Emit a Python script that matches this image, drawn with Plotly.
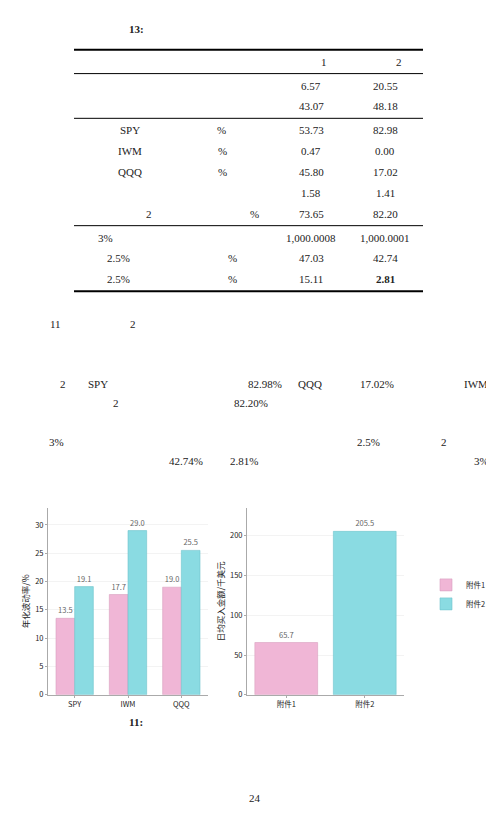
import plotly.graph_objects as go
from plotly.subplots import make_subplots

W, H = 494, 815

# chart data
etfs = ["SPY", "IWM", "QQQ"]
vol_att1 = [13.5, 17.7, 19.0]
vol_att2 = [19.1, 29.0, 25.5]
attachments = ["附件1", "附件2"]
daily_buy = [65.7, 205.5]

# table data (rows: label, unit, col1, col2)
tbl_labels = ["", "", "SPY", "IWM", "QQQ", "", "2", "3%", "2.5%", "2.5%"]
tbl_units = ["", "", "%", "%", "%", "", "%", "", "%", "%"]
tbl_col1 = ["6.57", "43.07", "53.73", "0.47", "45.80", "1.58", "73.65", "1,000.0008", "47.03", "15.11"]
tbl_col2 = ["20.55", "48.18", "82.98", "0.00", "17.02", "1.41", "82.20", "1,000.0001", "42.74", "<b>2.81</b>"]

PINK = "#f0b6d6"
CYAN = "#8adbe2"


def py(y):
    return 1 - y / H


def px(x):
    return x / W


fig = make_subplots(rows=1, cols=2)
fig.add_trace(go.Bar(x=etfs, y=vol_att1, name="附件1", marker=dict(color=PINK, line=dict(color="#d9a0c0", width=0.6)),
                     text=[f"{v:.1f}" for v in vol_att1], textposition="outside", showlegend=False), 1, 1)
fig.add_trace(go.Bar(x=etfs, y=vol_att2, name="附件2", marker=dict(color=CYAN, line=dict(color="#70c4cc", width=0.6)),
                     text=[f"{v:.1f}" for v in vol_att2], textposition="outside", showlegend=False), 1, 1)
fig.add_trace(go.Bar(x=[attachments[0]], y=[daily_buy[0]], name="附件1", marker=dict(color=PINK, line=dict(color="#d9a0c0", width=0.6)),
                     text=[f"{daily_buy[0]:.1f}"], textposition="outside", width=0.8), 1, 2)
fig.add_trace(go.Bar(x=[attachments[1]], y=[daily_buy[1]], name="附件2", marker=dict(color=CYAN, line=dict(color="#70c4cc", width=0.6)),
                     text=[f"{daily_buy[1]:.1f}"], textposition="outside", width=0.8), 1, 2)
fig.update_traces(textfont=dict(size=7.5, color="#666"), cliponaxis=False)

ax = dict(showline=True, linecolor="#aaa", linewidth=1, ticks="outside", ticklen=2, tickcolor="#aaa",
          tickfont=dict(size=7.5, color="#222"), zeroline=False)
fig.update_xaxes(**ax, showgrid=False)
fig.update_yaxes(**ax, showgrid=True, gridcolor="#f3f3f3")
fig.update_layout(
    xaxis=dict(domain=[px(40), px(200)]),
    xaxis2=dict(domain=[px(239), px(396)]),
    yaxis=dict(domain=[py(691), py(503)], range=[0, 33], dtick=5,
               title=dict(text="年化波动率/%", font=dict(size=8.5, color="#222"), standoff=4)),
    yaxis2=dict(domain=[py(691), py(503)], range=[0, 235], dtick=50,
                title=dict(text="日均买入金额/千美元", font=dict(size=8.5, color="#222"), standoff=4)),
    barmode="group", bargap=0.3, bargroupgap=0,
    width=W, height=H, margin=dict(l=0, r=0, t=0, b=0),
    paper_bgcolor="white", plot_bgcolor="white",
    font=dict(family="Noto Sans CJK SC", size=7.5, color="#222"),
    legend=dict(x=px(418), y=py(590), xanchor="left", yanchor="middle", font=dict(size=7.5, color="#222")),
)

serif = dict(family="Liberation Serif, DejaVu Serif", size=11, color="#222")


def text(x, y, s, anchor="center", size=11):
    fig.add_annotation(x=px(x), y=py(y), xref="paper", yref="paper", text=s, showarrow=False,
                       xanchor=anchor, yanchor="middle", font=dict(serif, size=size))


def hline(y, w):
    fig.add_shape(type="line", xref="paper", yref="paper", x0=px(66), x1=px(415), y0=py(y), y1=py(y),
                  line=dict(color="black", width=w))


# table
text(128, 21, "<b>13:</b>")
for y, w in [(42, 2), (66, 1), (111, 1), (219, 1), (285, 2)]:
    hline(y, w)
text(316, 54, "1")
text(391, 54, "2")
rows_y = [78, 99, 123, 144, 165, 186, 207, 231, 252, 273]
label_x = [122, 122, 122, 122, 122, 122, 141, 97, 110, 110]
unit_x = [213, 213, 213, 214, 214, 214, 246, 246, 224, 224]
for i, y in enumerate(rows_y):
    if tbl_labels[i]:
        text(label_x[i], y, tbl_labels[i])
    if tbl_units[i]:
        text(unit_x[i], y, tbl_units[i])
    text(303, y, tbl_col1[i])
    text(377, y, tbl_col2[i])

# paragraph fragments
text(47, 318, "11")
text(125, 318, "2")
for x, y, s in [(55, 378, "2"), (90, 378, "SPY"), (257, 378, "82.98%"), (302, 378, "QQQ"), (369, 378, "17.02%"),
                (468, 378, "IWM"), (108, 397, "2"), (243, 397, "82.20%"),
                (48, 437, "3%"), (360, 437, "2.5%"), (436, 437, "2"),
                (178, 456, "42.74%"), (236, 456, "2.81%"), (473, 456, "3%")]:
    text(x, y, s)

text(128, 718, "<b>11:</b>")
text(247, 795, "24")

fig.write_html("out.html")
